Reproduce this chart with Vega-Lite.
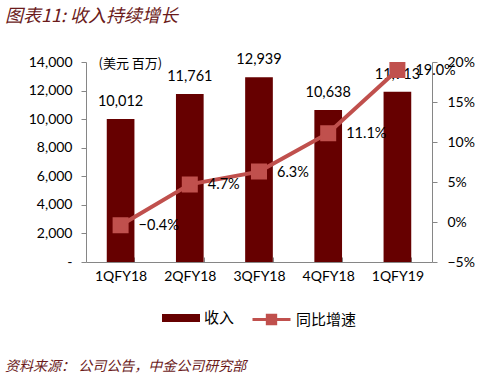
{
  "$schema": "https://vega.github.io/schema/vega-lite/v6.json",
  "background": "white",
  "padding": {"left": 5, "right": 5, "top": 8, "bottom": 5},
  "title": {"text": "资料来源：  公司公告，中金公司研究部", "orient": "bottom", "anchor": "start", "frame": "group", "font": "Noto Sans CJK SC", "fontSize": 14, "fontStyle": "italic", "fontWeight": "normal", "color": "#6b1b1b", "dx": -81, "offset": 30},
  "vconcat": [
    {
      "width": 346,
      "height": 200,
      "title": {"text": "图表11: 收入持续增长", "anchor": "start", "frame": "group", "font": "Noto Sans CJK SC", "fontSize": 18, "fontStyle": "italic", "fontWeight": "normal", "color": "#6b1b1b", "dx": -81, "offset": 26},
      "data": {"values": [
        {"q": "1QFY18", "rev": 10012, "g": -0.004},
        {"q": "2QFY18", "rev": 11761, "g": 0.047},
        {"q": "3QFY18", "rev": 12939, "g": 0.063},
        {"q": "4QFY18", "rev": 10638, "g": 0.111},
        {"q": "1QFY19", "rev": 11913, "g": 0.19}
      ]},
      "encoding": {
        "x": {"field": "q", "type": "nominal", "sort": null, "title": null,
          "scale": {"paddingInner": 0.6, "paddingOuter": 0.3},
          "axis": {"labelAngle": 0, "tickBand": "extent", "tickSize": -5, "labelPadding": 12, "domainColor": "#868686", "tickColor": "#868686", "labelFont": "Lato", "labelFontSize": 14, "labelColor": "#000"}}
      },
      "layer": [
        {
          "encoding": {
            "y": {"field": "rev", "type": "quantitative", "scale": {"domain": [0, 14000]},
              "axis": {"orient": "left", "values": [0,2000,4000,6000,8000,10000,12000,14000], "grid": false, "labelExpr": "datum.value == 0 ? '-' : format(datum.value, ',')", "title": "(美元 百万)", "titleAngle": 0, "titleX": 12, "titleY": -5, "titleAlign": "left", "titleBaseline": "top", "titleFont": "Noto Sans CJK SC", "titleFontSize": 13, "titleFontWeight": "normal", "titleColor": "#000", "domainColor": "#868686", "tickColor": "#868686", "tickSize": 5, "labelFont": "Lato", "labelFontSize": 14, "labelColor": "#000", "labelPadding": 9}}
          },
          "layer": [
            {
              "mark": {"type": "bar", "color": "#660000"},
              "encoding": {
                "fill": {"datum": "收入", "scale": {"range": ["#660000"]}, "legend": {"title": null, "orient": "bottom", "offset": 16, "symbolType": "M-1,-0.21H1V0.21H-1Z", "symbolSize": 1444, "labelFont": "Noto Sans CJK SC", "labelFontSize": 15, "labelColor": "#000", "symbolStrokeWidth": 0}}
              }
            },
            {
              "mark": {"type": "text", "baseline": "bottom", "dy": -10, "font": "Lato", "fontSize": 14.5, "color": "#000"},
              "encoding": {
                "text": {"field": "rev", "type": "quantitative", "format": ","}
              }
            }
          ]
        },
        {
          "encoding": {
            "y": {"field": "g", "type": "quantitative", "scale": {"domain": [-0.05, 0.2]},
              "axis": {"orient": "right", "values": [-0.05,0,0.05,0.1,0.15,0.2], "grid": false, "title": null, "format": ".0%", "domainColor": "#868686", "tickColor": "#868686", "tickSize": 5, "labelFont": "Lato", "labelFontSize": 14, "labelColor": "#000", "labelPadding": 10}}
          },
          "layer": [
            {
              "mark": {"type": "line", "color": "#C0504D", "strokeWidth": 4, "point": {"shape": "square", "size": 196, "filled": true, "color": "#C0504D", "opacity": 1}},
              "encoding": {
                "stroke": {"datum": "同比增速", "scale": {"range": ["#C0504D"]}, "legend": {"title": null, "orient": "bottom", "offset": 16, "symbolType": "M-1,0H1M-0.22,-0.22H0.22V0.22H-0.22Z", "symbolSize": 1444, "symbolStrokeWidth": 3, "symbolFillColor": "#C0504D", "labelFont": "Noto Sans CJK SC", "labelFontSize": 15, "labelColor": "#000"}}
              }
            },
            {
              "mark": {"type": "text", "align": "left", "baseline": "middle", "dx": 18, "dy": 1, "font": "Lato", "fontSize": 14.5, "color": "#000"},
              "encoding": {
                "text": {"field": "g", "type": "quantitative", "format": ".1%"}
              }
            }
          ]
        }
      ],
      "resolve": {"scale": {"y": "independent"}}
    }
  ],
  "config": {"view": {"stroke": null}, "legend": {"columnPadding": 20, "layout": {"bottom": {"anchor": "middle", "margin": 16}}}}
}
